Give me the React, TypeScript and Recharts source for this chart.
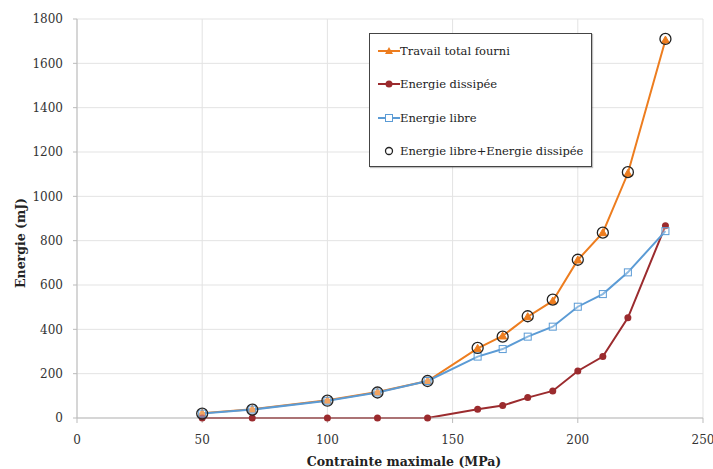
import React from "react";
import {
  LineChart,
  Line,
  XAxis,
  YAxis,
  CartesianGrid,
} from "recharts";

// Stress levels (MPa)
const contrainte = [50, 70, 100, 120, 140, 160, 170, 180, 190, 200, 210, 220, 235];

// Energies (mJ)
const travailTotal = [22, 40, 80, 117, 167, 314, 370, 457, 528, 713, 836, 1104, 1705];
const energieDissipee = [0, 0, 0, 0, 0, 39, 56, 92, 122, 212, 277, 452, 867];
const energieLibre = [20, 38, 78, 115, 167, 277, 311, 367, 412, 502, 559, 657, 843];

const xTicks = [0, 50, 100, 150, 200, 250];
const yTicks = [0, 200, 400, 600, 800, 1000, 1200, 1400, 1600, 1800];

const ORANGE = "#ED7D1F";
const RED = "#9B2B2E";
const BLUE = "#5B9BD5";
const FONT = "DejaVu Serif";

const data = contrainte.map((x, i) => ({
  x,
  travail: travailTotal[i],
  dissipee: energieDissipee[i],
  libre: energieLibre[i],
  somme: energieLibre[i] + energieDissipee[i],
}));

const Triangle = (props: any) => {
  const { cx, cy } = props;
  if (cx == null || cy == null) return null;
  return (
    <path
      d={`M${cx},${cy - 4} L${cx + 4},${cy + 3} L${cx - 4},${cy + 3} Z`}
      fill={ORANGE}
      stroke={ORANGE}
    />
  );
};

const Square = (props: any) => {
  const { cx, cy } = props;
  if (cx == null || cy == null) return null;
  return (
    <rect x={cx - 3.5} y={cy - 3.5} width={7} height={7} fill="#fff" fillOpacity={0.3} stroke={BLUE} strokeWidth={1} />
  );
};

const legendItems = [
  { label: "Travail total fourni", kind: "tri" },
  { label: "Energie dissipée", kind: "dot" },
  { label: "Energie libre", kind: "sq" },
  { label: "Energie libre+Energie dissipée", kind: "circ" },
];

const LegendBox = () => (
  <div
    style={{
      position: "absolute",
      left: 369,
      top: 33,
      border: "1px solid #444",
      background: "#fff",
      width: 223,
      height: 134,
      boxSizing: "border-box",
      padding: "0 0 0 8px",
      fontFamily: FONT,
      fontSize: 11.5,
      color: "#222",
      boxShadow: "1px 1px 1px rgba(0,0,0,0.25)",
    }}
  >
    {legendItems.map((it) => (
      <div key={it.label} style={{ display: "flex", alignItems: "center", height: 33.5 }}>
        <svg width={22} height={12}>
          {it.kind !== "circ" && (
            <line
              x1={0}
              y1={6}
              x2={22}
              y2={6}
              stroke={it.kind === "tri" ? ORANGE : it.kind === "dot" ? RED : BLUE}
              strokeWidth={2}
            />
          )}
          {it.kind === "tri" && <path d="M11,2 L15,9 L7,9 Z" fill={ORANGE} />}
          {it.kind === "dot" && <circle cx={11} cy={6} r={3.5} fill={RED} />}
          {it.kind === "sq" && <rect x={7.5} y={2.5} width={7} height={7} fill="#fff" stroke={BLUE} />}
          {it.kind === "circ" && <circle cx={11} cy={6} r={3.5} fill="none" stroke="#222" strokeWidth={1.3} />}
        </svg>
        <span>{it.label}</span>
      </div>
    ))}
  </div>
);

export default function App() {
  return (
    <div style={{ position: "absolute", left: 0, top: 0, width: 713, height: 469, background: "#fff" }}>
      <LineChart
        width={713}
        height={469}
        data={data}
        margin={{ top: 19, right: 10, left: 0, bottom: 0 }}
      >
        <CartesianGrid stroke="#e3e3e3" />
        <XAxis
          dataKey="x"
          type="number"
          domain={[0, 250]}
          ticks={xTicks}
          height={51}
          stroke="#bbb"
          tickSize={5}
          tickMargin={12}
          tick={{ fill: "#333", fontFamily: FONT, fontSize: 12 }}
          label={{
            content: () => (
              <text
                x={404}
                y={466}
                textAnchor="middle"
                fontFamily={FONT}
                fontSize={12.5}
                fontWeight="bold"
                fill="#222"
              >
                Contrainte maximale (MPa)
              </text>
            ),
          }}
        />
        <YAxis
          type="number"
          domain={[0, 1800]}
          ticks={yTicks}
          width={77}
          stroke="#bbb"
          tickSize={4}
          tickMargin={10}
          tick={{ fill: "#333", fontFamily: FONT, fontSize: 12 }}
          label={{
            content: () => (
              <text
                x={25}
                y={243}
                transform="rotate(-90 25 243)"
                textAnchor="middle"
                fontFamily={FONT}
                fontSize={12.5}
                fontWeight="bold"
                fill="#222"
              >
                Energie  (mJ)
              </text>
            ),
          }}
        />
        <Line
          dataKey="travail"
          stroke={ORANGE}
          strokeWidth={2}
          dot={<Triangle />}
          isAnimationActive={false}
        />
        <Line
          dataKey="dissipee"
          stroke={RED}
          strokeWidth={2}
          dot={{ r: 3.5, fill: RED, stroke: RED, strokeWidth: 0 }}
          isAnimationActive={false}
        />
        <Line
          dataKey="libre"
          stroke={BLUE}
          strokeWidth={2}
          dot={<Square />}
          isAnimationActive={false}
        />
        <Line
          dataKey="somme"
          stroke="none"
          dot={{ r: 5.5, fill: "none", stroke: "#222", strokeWidth: 1.3 }}
          isAnimationActive={false}
        />
      </LineChart>
      <LegendBox />
    </div>
  );
}
